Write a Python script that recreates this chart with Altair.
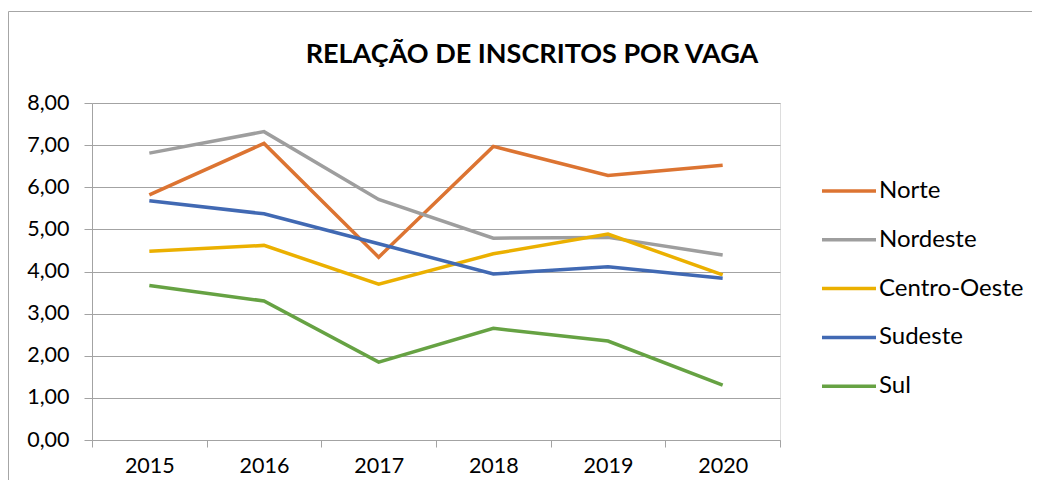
import altair as alt
import pandas as pd

anos = ["2015", "2016", "2017", "2018", "2019", "2020"]
regioes = ["Norte", "Nordeste", "Centro-Oeste", "Sudeste", "Sul"]
cores = ["#DC7432", "#9E9E9E", "#EBB000", "#4169B3", "#66A243"]
titulo = "RELAÇÃO DE INSCRITOS POR VAGA"

norte = [5.82, 7.04, 4.34, 6.97, 6.28, 6.52]
nordeste = [6.81, 7.32, 5.71, 4.79, 4.81, 4.39]
centro_oeste = [4.48, 4.62, 3.70, 4.42, 4.89, 3.92]
sudeste = [5.68, 5.37, 4.66, 3.94, 4.11, 3.84]
sul = [3.67, 3.30, 1.85, 2.65, 2.35, 1.30]

series = [norte, nordeste, centro_oeste, sudeste, sul]
rows = []
for nome, vals in zip(regioes, series):
    for a, v in zip(anos, vals):
        rows.append({"ano": a, "regiao": nome, "valor": v})
df = pd.DataFrame(rows)

FONT = "Lato"
GRID = "#A3A3A3"

lines = alt.Chart(df).mark_line(strokeWidth=3.5).encode(
    x=alt.X("ano:O",
            scale=alt.Scale(type="band", paddingInner=0, paddingOuter=0),
            bandPosition=0.5,
            axis=alt.Axis(title=None, tickBand="extent", labelAngle=0, grid=False,
                          tickSize=7, labelPadding=8, labelFontSize=21.5,
                          labelFont=FONT, labelColor="#000000",
                          domainColor=GRID, tickColor=GRID)),
    y=alt.Y("valor:Q",
            scale=alt.Scale(domain=[0, 8], nice=False),
            axis=alt.Axis(title=None, values=[0, 1, 2, 3, 4, 5, 6, 7, 8],
                          labelExpr="replace(format(datum.value, '.2f'), '.', ',')",
                          grid=True, gridColor=GRID, tickSize=8, labelPadding=15,
                          labelFontSize=21.5, labelFont=FONT, labelColor="#000000",
                          domainColor=GRID, tickColor=GRID)),
    color=alt.Color("regiao:N",
                    scale=alt.Scale(domain=regioes, range=cores),
                    sort=regioes,
                    legend=alt.Legend(title=None, orient="none", legendX=737, legendY=68,
                                      symbolType="M-1.5,0H1.5", symbolSize=1296,
                                      symbolStrokeWidth=3.5, labelFontSize=24,
                                      labelFont=FONT, labelColor="#000000",
                                      labelOffset=10, rowPadding=16.8, padding=0)),
)

frame_df = pd.DataFrame({"k": [0]})
top_edge = alt.Chart(frame_df).mark_rule(stroke="#A6A6A6", strokeWidth=1).encode(
    x=alt.value(-83.5), x2=alt.value(2000), y=alt.value(-91.5),
)
left_edge = alt.Chart(frame_df).mark_rule(stroke="#A6A6A6", strokeWidth=1).encode(
    x=alt.value(-83.5), y=alt.value(-91.5), y2=alt.value(600),
)

title_text = alt.Chart(pd.DataFrame({"t": [titulo]})).mark_text(
    font=FONT, fontSize=27, fontWeight="bold", color="#000000",
    align="center", baseline="alphabetic"
).encode(
    text="t:N", x=alt.value(440), y=alt.value(-40),
)

chart = alt.layer(top_edge, left_edge, lines, title_text).properties(
    width=688,
    height=337,
    autosize=alt.AutoSizeParams(type="none"),
    padding={"left": 84, "top": 95, "right": 252, "bottom": 40},
).configure_view(stroke=None).configure(background="#FFFFFF")

chart.save("out.html", embed_options={"renderer": "svg", "actions": False})
